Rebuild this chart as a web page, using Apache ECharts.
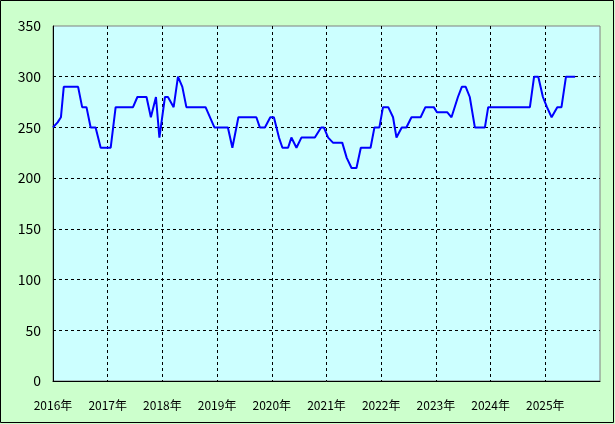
<!DOCTYPE html>
<html>
<head>
<meta charset="utf-8">
<script src="https://cdn.jsdelivr.net/npm/echarts@6/dist/echarts.min.js"></script>
<style>
html,body{margin:0;padding:0;background:#ccffcc;}
#main{width:615px;height:424px;}
</style>
</head>
<body>
<div id="main"></div>
<script>
const dates = [
'2016-01-01','2016-02-01','2016-02-23','2016-03-13','2016-06-17','2016-07-14','2016-08-12','2016-09-09','2016-10-12','2016-11-15',
'2017-01-21','2017-02-23','2017-06-19','2017-07-18','2017-09-17','2017-10-16','2017-11-19','2017-12-12',
'2018-01-18','2018-02-07','2018-03-17','2018-04-15','2018-05-14','2018-06-10','2018-10-16','2018-12-14',
'2019-03-14','2019-04-13','2019-05-23','2019-09-20','2019-10-13','2019-11-16','2019-12-22',
'2020-01-15','2020-02-18','2020-03-12','2020-04-19','2020-05-11','2020-06-14','2020-07-17','2020-10-15','2020-11-26','2020-12-14',
'2021-01-12','2021-02-13','2021-04-16','2021-05-16','2021-06-17','2021-07-20','2021-08-18','2021-10-22','2021-11-17','2021-12-20',
'2022-01-13','2022-02-17','2022-03-21','2022-04-13','2022-05-18','2022-06-18','2022-07-22','2022-09-21','2022-10-23','2022-12-18',
'2023-01-08','2023-03-17','2023-04-15','2023-05-28','2023-06-23','2023-07-19','2023-08-15','2023-09-18','2023-11-24','2023-12-16',
'2024-09-20','2024-10-18','2024-11-15','2024-12-16',
'2025-01-12','2025-02-12','2025-03-22','2025-04-19','2025-05-19','2025-07-19'
];
const values = [
250,255,260,290,290,270,270,250,250,230,
230,270,270,280,280,260,280,240,
280,280,270,300,290,270,270,250,
250,230,260,260,250,250,260,
260,240,230,230,240,230,240,240,250,250,
240,235,235,220,210,210,230,230,250,250,
270,270,260,240,250,250,260,260,270,270,
265,265,260,280,290,290,280,250,250,270,
270,300,300,280,
270,260,270,270,300,300
];
const yearTicks = [2016,2017,2018,2019,2020,2021,2022,2023,2024,2025];
const yTicks = [0,50,100,150,200,250,300,350];

function toYear(s){
  const [y,m,d] = s.split('-').map(Number);
  const start = Date.UTC(y,0,1), end = Date.UTC(y+1,0,1);
  return y + (Date.UTC(y,m-1,d) - start)/(end-start);
}
const seriesData = dates.map((d,i)=>[toYear(d), values[i]]);

const chart = echarts.init(document.getElementById('main'), null, {renderer:'canvas'});
chart.setOption({
  backgroundColor:'#ccffcc',
  animation:false,
  graphic:[{type:'rect',shape:{x:0.5,y:0.5,width:613,height:422},style:{fill:null,stroke:'#000',lineWidth:1},silent:true}],
  grid:{left:53,top:26,right:15,bottom:43,show:true,backgroundColor:'#ccffff',borderColor:'#808080',borderWidth:1},
  xAxis:{
    type:'value',min:yearTicks[0],max:yearTicks[yearTicks.length-1]+1,interval:1,
    axisLine:{show:true,lineStyle:{color:'#000',width:1}},
    axisTick:{show:false},
    axisLabel:{margin:18,color:'#000',fontSize:12,fontFamily:'"Noto Sans CJK JP", sans-serif',
      formatter:v=> yearTicks.includes(v) ? v+'年' : ''},
    splitLine:{show:true,showMinLine:false,showMaxLine:false,lineStyle:{color:'#000',type:[3,3],width:1}}
  },
  yAxis:{
    type:'value',min:yTicks[0],max:yTicks[yTicks.length-1],interval:50,
    axisLine:{show:true,lineStyle:{color:'#000',width:1}},
    axisTick:{show:false},
    axisLabel:{margin:12,color:'#000',fontSize:14,fontFamily:'"Noto Sans CJK JP", sans-serif'},
    splitLine:{show:true,showMinLine:false,showMaxLine:false,lineStyle:{color:'#000',type:[3,3],width:1}}
  },
  series:[{type:'line',data:seriesData,showSymbol:false,symbol:'none',lineStyle:{color:'#0000ff',width:2},itemStyle:{color:'#0000ff'}}]
});
</script>
</body>
</html>
